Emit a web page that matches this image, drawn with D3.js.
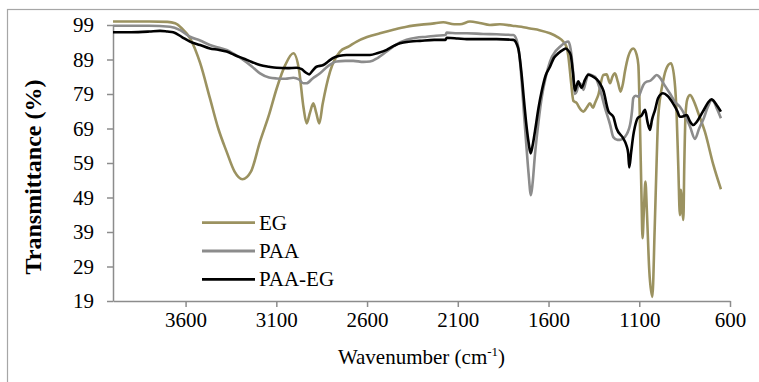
<!DOCTYPE html>
<html>
<head>
<meta charset="utf-8">
<script src="https://cdn.jsdelivr.net/npm/d3@7"></script>
<style>
  body { margin: 0; background: #fff; }
  text { font-family: "Liberation Serif", "Times New Roman", serif; fill: #000; }
</style>
</head>
<body>
<svg id="chart" width="759" height="382"></svg>
<script>
// series names (legend order)
const seriesNames = ["EG", "PAA", "PAA-EG"];

// tick labels
const xTicks = [3600, 3100, 2600, 2100, 1600, 1100, 600];
const yTicks = [19, 29, 39, 49, 59, 69, 79, 89, 99];

// EG spectrum: wavenumber (cm-1) / transmittance (%)
const egWn = [4000, 3800, 3700, 3658, 3620, 3576, 3520, 3466, 3420, 3374, 3330, 3287, 3240, 3190, 3140, 3098, 3050, 3006,
  2975, 2950, 2933, 2915, 2896, 2880, 2863, 2845, 2804, 2749, 2700, 2657, 2600, 2529, 2450, 2382, 2300, 2240, 2180, 2120,
  2088, 2033, 1980, 1923, 1868, 1800, 1750, 1702, 1650, 1592, 1550, 1519, 1500, 1491, 1475, 1463, 1445, 1430, 1408, 1390,
  1372, 1355, 1344, 1326, 1298, 1280, 1261, 1248, 1234, 1218, 1203, 1190, 1179, 1160, 1133, 1115, 1105, 1096, 1088, 1082,
  1074, 1066, 1058, 1045, 1028, 1015, 1004, 996, 969, 945, 925, 905, 894, 885, 876, 870, 862, 857, 852, 845, 835, 820,
  800, 775, 738, 692, 650];
const egT = [100, 100, 99.9, 99.5, 98, 95.2, 88, 77.8, 69, 62.3, 56.5, 54.3, 56.5, 65.2, 73, 80.6, 87.5, 90.8,
  86, 75, 70.5, 73.5, 76.3, 73.5, 70.5, 76, 85.5, 91.3, 92.8, 94.2, 95.5, 96.6, 97.7, 98.5, 99.1, 99.4, 99.8, 99.2,
  99.2, 100, 99.6, 99, 99.2, 98.8, 98.5, 98, 97.5, 96.6, 95.5, 94.2, 92.5, 90, 82, 77, 76.4, 75, 73.9, 75,
  76.3, 75, 76.4, 78.7, 84.5, 84.7, 82.1, 84, 85, 82.5, 79.7, 82, 85.5, 90, 92.2, 90.5, 87.4, 70, 50, 37.2,
  46, 53.6, 45, 28, 20.2, 40, 60, 72, 82.6, 87, 87.9, 82.6, 73, 58, 43.9, 51.2, 45, 42.5, 58, 73, 77.5, 78.7,
  77, 73.5, 68, 58.5, 51.4];

// PAA spectrum
const paaWn = [4000, 3800, 3686, 3630, 3576, 3520, 3466, 3420, 3374, 3330, 3282, 3235, 3190, 3140, 3098, 3050, 3006,
  2975, 2951, 2934, 2900, 2859, 2810, 2768, 2720, 2676, 2620, 2584, 2540, 2492, 2440, 2382, 2330, 2271, 2220, 2168,
  2161, 2100, 2051, 1960, 1886, 1794, 1776, 1760, 1748, 1735, 1721, 1710, 1697, 1688, 1675, 1655, 1638, 1615, 1592,
  1560, 1537, 1510, 1491, 1478, 1463, 1455, 1445, 1436, 1427, 1418, 1408, 1395, 1381, 1365, 1344, 1320, 1289, 1260,
  1243, 1220, 1206, 1180, 1151, 1140, 1133, 1120, 1105, 1090, 1078, 1059, 1041, 1020, 1004, 990, 960, 929, 900, 876,
  850, 820, 793, 770, 748, 720, 701, 692, 670, 650];
const paaT = [98.8, 98.8, 98.5, 97.5, 95.6, 94.5, 93.2, 92.5, 91.8, 90.5, 88.9, 87, 85, 83.8, 83.5, 83.4, 83.7,
  83.2, 82.1, 82.1, 83.5, 85, 87.3, 88.4, 88.6, 88.6, 88.3, 88.4, 89.5, 91.3, 93.3, 94.7, 95.3, 95.6, 95.9, 96.1,
  96.8, 96.6, 96.6, 96.4, 96.3, 96.1, 94.7, 90, 82.6, 73, 63.3, 56, 49.7, 53, 61.3, 71, 77.8, 84, 88.4,
  91.5, 92.7, 93.8, 94.2, 92, 84.5, 79, 79.7, 81.5, 82.1, 81.5, 80.2, 82.5, 84.8, 84.5, 84, 81, 75, 70,
  66.5, 65.7, 65.7, 66.5, 70, 74, 77.8, 78.5, 78.2, 80, 81.6, 82.6, 82.8, 83.8, 84.5, 84, 81.5, 79, 76.5, 75.3,
  73, 69.5, 66, 69, 71.5, 75.5, 77.3, 77, 74.5, 72];

// PAA-EG spectrum
const paaEgWn = [4000, 3900, 3800, 3741, 3700, 3668, 3620, 3576, 3520, 3466, 3420, 3374, 3330, 3282, 3235, 3190, 3140,
  3098, 3040, 2988, 2960, 2940, 2919, 2900, 2879, 2841, 2810, 2786, 2750, 2713, 2650, 2584, 2540, 2492, 2450, 2419,
  2360, 2308, 2230, 2168, 2161, 2100, 2051, 1960, 1886, 1794, 1767, 1748, 1735, 1724, 1710, 1699, 1688, 1675, 1655,
  1638, 1615, 1592, 1570, 1546, 1520, 1504, 1490, 1478, 1465, 1455, 1445, 1436, 1426, 1418, 1400, 1381, 1360, 1335,
  1316, 1298, 1270, 1243, 1225, 1189, 1170, 1161, 1155, 1145, 1133, 1124, 1109, 1087, 1068, 1055, 1041, 1030, 1013,
  996, 969, 945, 914, 890, 876, 860, 839, 820, 802, 785, 766, 740, 720, 701, 690, 670, 650];
const paaEgT = [96.9, 96.9, 97.1, 97.3, 97.1, 96.9, 95.5, 94.2, 93.2, 92.2, 91.8, 91.3, 90.3, 89.3, 88.3, 87.4, 86.9,
  86.6, 86.5, 86.6, 86.2, 85.3, 84.7, 85.8, 86.9, 87.4, 88.6, 89.5, 90.1, 90.3, 90.3, 90.3, 90.9, 91.8, 93, 93.7,
  94.2, 94.4, 94.7, 94.7, 95.3, 95.1, 94.9, 94.9, 94.9, 94.7, 92.2, 84.5, 77, 71, 65, 61.8, 64, 68.1, 75,
  79.7, 84.5, 86.9, 89.5, 90.8, 91.8, 92.2, 91.5, 90.3, 85, 80, 81.5, 82.7, 81.5, 80.8, 83, 84.6, 84.2, 83.3,
  82, 80, 74, 72.4, 69, 66.2, 64, 61.8, 57.7, 62, 67, 69.5, 72, 72.8, 74.4, 71, 68.6, 71.5, 74.4,
  77.8, 79.2, 78.5, 76.3, 74, 72.4, 72.5, 72.9, 71, 70, 70.8, 72.4, 74.8, 76.6, 77.5, 77, 75.5, 73.9];

const seriesData = [
  d3.zip(egWn, egT),
  d3.zip(paaWn, paaT),
  d3.zip(paaEgWn, paaEgT)
];

const svg = d3.select("#chart");
const margin = { top: 25, right: 29, bottom: 81, left: 113 },
    width = +svg.attr("width") - margin.left - margin.right,
    height = +svg.attr("height") - margin.top - margin.bottom;

// outer frame
svg.append("rect")
    .attr("x", 7.5).attr("y", 9.5)
    .attr("width", 760).attr("height", 380)
    .attr("fill", "none")
    .attr("stroke", "#a6a6a6")
    .attr("stroke-width", 1.2);

const g = svg.append("g").attr("transform", `translate(${margin.left},${margin.top})`);

const x = d3.scaleLinear().domain([4000, 600]).range([0, width]);
const y = d3.scaleLinear().domain([19, 99]).range([height, 0]);
const color = d3.scaleOrdinal().domain(seriesNames).range(["#9b9260", "#8c8c8c", "#000000"]);

// axes
const xAxis = g.append("g")
    .attr("transform", `translate(0,${height})`)
    .call(d3.axisBottom(x).tickValues(xTicks).tickSizeInner(6).tickSizeOuter(0).tickPadding(5).tickFormat(d3.format("d")));
const yAxis = g.append("g")
    .call(d3.axisLeft(y).tickValues(yTicks).tickSizeInner(6).tickSizeOuter(0).tickPadding(13).tickFormat(d3.format("d")));

[xAxis, yAxis].forEach(ax => {
    ax.select(".domain").attr("stroke", "#8c8c8c").attr("stroke-width", 1.5);
    ax.selectAll(".tick line").attr("stroke", "#8c8c8c").attr("stroke-width", 1.5);
    ax.selectAll(".tick text")
        .attr("fill", "#000")
        .attr("font-family", "Liberation Serif, serif")
        .attr("font-size", 21);
});

// spectra
const line = d3.line()
    .x(d => x(d[0]))
    .y(d => y(d[1]))
    .curve(d3.curveMonotoneX);

g.append("g")
    .selectAll("path")
    .data(seriesData)
    .enter().append("path")
    .attr("fill", "none")
    .attr("stroke", (d, i) => color(seriesNames[i]))
    .attr("stroke-width", 2.6)
    .attr("stroke-linejoin", "round")
    .attr("d", line);

// legend
const legend = g.append("g")
    .selectAll("g")
    .data(seriesNames)
    .enter().append("g")
    .attr("transform", (name, i) => `translate(89,${197.7 + i * 28.3})`);

legend.append("line")
    .attr("x1", 0).attr("x2", 53)
    .attr("stroke", name => color(name))
    .attr("stroke-width", 2.8);

legend.append("text")
    .attr("x", 57)
    .attr("y", 7)
    .attr("font-size", 21)
    .text(name => name);

// axis titles
const xTitle = svg.append("text")
    .attr("x", margin.left + width / 2)
    .attr("y", 364)
    .attr("text-anchor", "middle")
    .attr("font-size", 21);
xTitle.append("tspan").text("Wavenumber (cm");
xTitle.append("tspan").attr("font-size", 13).attr("dy", -8).text("-1");
xTitle.append("tspan").attr("dy", 8).text(")");

svg.append("text")
    .attr("transform", "translate(41,177) rotate(-90)")
    .attr("text-anchor", "middle")
    .attr("font-size", 24)
    .attr("font-weight", "bold")
    .text("Transmittance (%)");
</script>
</body>
</html>
